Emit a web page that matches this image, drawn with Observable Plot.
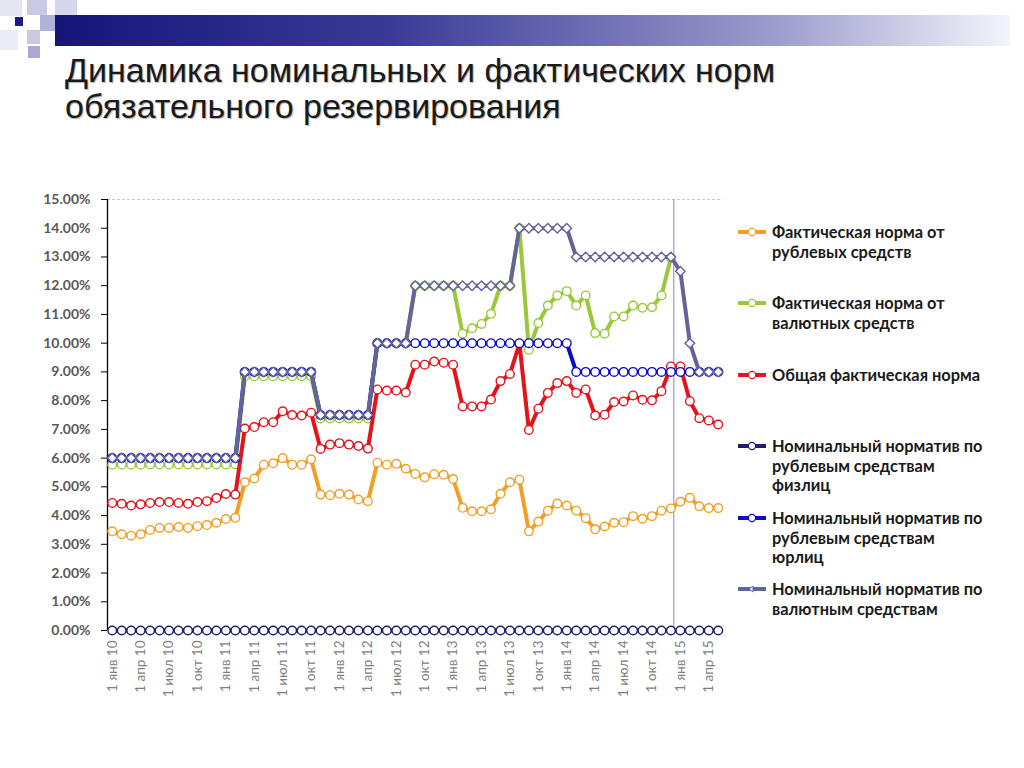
<!DOCTYPE html>
<html><head><meta charset="utf-8">
<script src="https://cdn.jsdelivr.net/npm/d3@7"></script>
<script src="https://cdn.jsdelivr.net/npm/@observablehq/plot@0.6"></script>
<style>
body{margin:0;width:1024px;height:768px;background:#fff;position:relative;overflow:hidden;font-family:"Liberation Sans",Arial,sans-serif}
.sq{position:absolute}
#bar{position:absolute;left:55px;top:15px;width:955px;height:31px;background:linear-gradient(to right,#15157a 0%,#3a3a96 35%,#9b9bcc 75%,#f4f4fb 100%)}
#title{position:absolute;left:65px;top:52px;font-size:34px;line-height:36px;color:#1a1a1a;text-shadow:1px 1px 1px #b0b0b0}
#chart{position:absolute;left:0;top:170px}
#legend{position:absolute;left:736px;top:0;font-family:Lato,"Open Sans",sans-serif;font-weight:bold;font-size:16.4px;color:#1a1a1a}
.item{position:absolute;left:0;line-height:19.5px}
.item svg{position:absolute;left:0;top:0}
.item span{position:absolute;left:36px;top:0;white-space:pre}
</style></head><body>
<div class="sq" style="left:0;top:0;width:22px;height:16px;background:#e6e6f2"></div>
<div class="sq" style="left:27px;top:0;width:20px;height:15px;background:#c9c9e4"></div>
<div class="sq" style="left:55px;top:0;width:22px;height:15px;background:#d6d6ec"></div>
<div class="sq" style="left:15px;top:17px;width:8px;height:9px;background:#1c1c82"></div>
<div class="sq" style="left:40px;top:15px;width:15px;height:16px;background:#b3b3d9"></div>
<div class="sq" style="left:27px;top:30px;width:13px;height:14px;background:#c9c9e4"></div>
<div class="sq" style="left:0;top:30px;width:18px;height:20px;background:#ececf5"></div>
<div class="sq" style="left:28px;top:46px;width:12px;height:12px;background:#a9a9d2"></div>
<div id="bar"></div>
<div id="title">Динамика номинальных и фактических норм<br>обязательного резервирования</div>
<div id="chart"></div>
<div id="legend"></div>
<script>
// x-axis tick labels (every 3rd month from Jan 2010)
const tickLabels = ["1 янв 10","1 апр 10","1 июл 10","1 окт 10","1 янв 11","1 апр 11","1 июл 11","1 окт 11","1 янв 12","1 апр 12","1 июл 12","1 окт 12","1 янв 13","1 апр 13","1 июл 13","1 окт 13","1 янв 14","1 апр 14","1 июл 14","1 окт 14","1 янв 15","1 апр 15"];
const yTicks = [0,1,2,3,4,5,6,7,8,9,10,11,12,13,14,15];
// monthly observations, Jan 2010 .. May 2015 (65 months)
const rubActual = [3.45,3.35,3.30,3.35,3.50,3.57,3.57,3.60,3.57,3.63,3.67,3.75,3.88,3.92,5.16,5.29,5.77,5.82,6.00,5.77,5.77,5.96,4.73,4.71,4.76,4.73,4.56,4.50,5.84,5.77,5.80,5.63,5.45,5.33,5.44,5.42,5.27,4.27,4.15,4.15,4.22,4.76,5.16,5.25,3.45,3.79,4.17,4.42,4.35,4.17,3.91,3.52,3.62,3.75,3.77,3.98,3.89,3.98,4.17,4.25,4.48,4.62,4.32,4.26,4.26];
const fxActual = [5.77,5.77,5.77,5.77,5.78,5.78,5.78,5.78,5.78,5.78,5.78,5.78,5.78,5.78,8.85,8.85,8.85,8.85,8.85,8.85,8.85,8.85,7.38,7.38,7.38,7.38,7.38,7.38,10.0,10.0,10.0,10.0,12.0,12.0,12.0,12.0,12.0,10.33,10.52,10.67,11.02,12.0,12.0,14.0,9.77,10.70,11.31,11.66,11.81,11.31,11.66,10.35,10.33,10.93,10.93,11.31,11.23,11.25,11.66,12.97,null,null,null,null,null];
const totalActual = [4.44,4.41,4.35,4.39,4.44,4.47,4.47,4.44,4.41,4.47,4.50,4.61,4.75,4.73,7.03,7.08,7.25,7.25,7.63,7.50,7.48,7.58,6.32,6.47,6.52,6.47,6.42,6.33,8.39,8.35,8.35,8.28,9.25,9.25,9.36,9.32,9.25,7.80,7.80,7.80,8.04,8.68,8.93,9.98,6.98,7.72,8.27,8.61,8.68,8.27,8.39,7.48,7.51,7.95,7.97,8.18,8.03,8.01,8.33,9.19,9.19,7.98,7.39,7.31,7.17];
const nomRubPersons = [0,0,0,0,0,0,0,0,0,0,0,0,0,0,0,0,0,0,0,0,0,0,0,0,0,0,0,0,0,0,0,0,0,0,0,0,0,0,0,0,0,0,0,0,0,0,0,0,0,0,0,0,0,0,0,0,0,0,0,0,0,0,0,0,0];
const nomRubLegal = [6,6,6,6,6,6,6,6,6,6,6,6,6,6,9,9,9,9,9,9,9,9,7.5,7.5,7.5,7.5,7.5,7.5,10,10,10,10,10,10,10,10,10,10,10,10,10,10,10,10,10,10,10,10,10,9,9,9,9,9,9,9,9,9,9,9,9,9,9,9,9];
const nomFx = [6,6,6,6,6,6,6,6,6,6,6,6,6,6,9,9,9,9,9,9,9,9,7.5,7.5,7.5,7.5,7.5,7.5,10,10,10,10,12,12,12,12,12,12,12,12,12,12,12,14,14,14,14,14,14,13,13,13,13,13,13,13,13,13,13,13,12.5,10,9,9,9];
const markerMonth = [59.3];

const seriesNames = ["Фактическая норма от\nрублевых средств","Фактическая норма от\nвалютных средств","Общая фактическая норма","Номинальный норматив по\nрублевым средствам\nфизлиц","Номинальный норматив по\nрублевым средствам\nюрлиц","Номинальный норматив по\nвалютным средствам"];
const seriesColors = ["#f0a028","#99c93a","#e3141b","#1e1e6e","#0b0bc8","#64649a"];
const seriesValues = [rubActual,fxActual,totalActual,nomRubPersons,nomRubLegal,nomFx];
const seriesSymbols = ["circle","circle","circle","circle","circle","diamond2"];
const legendTops = [222,293,365,436,508,579];

const marks = [
  Plot.ruleY([15],{stroke:"#c8c8c8",strokeDasharray:"3,2",strokeWidth:1}),
  Plot.ruleX(markerMonth,{y1:0,y2:15,stroke:"#9a9ad8",strokeWidth:1.2}),
  Plot.axisY({ticks:yTicks,label:null,tickSize:6,tickPadding:11,tickFormat:d=>d.toFixed(2)+"%",fontSize:14,fontWeight:"bold",fill:"#595959",stroke:"#000",fontFamily:"Lato, 'Open Sans', sans-serif"}),
  Plot.ruleX([-0.5],{y1:0,y2:15,stroke:"#000",strokeWidth:1.3}),
  Plot.axisX({ticks:tickLabels.map((_,k)=>k*3),label:null,tickFormat:i=>tickLabels[i/3],tickRotate:-90,tickSize:0,tickPadding:10,fontSize:13.5,fill:"#7f7f7f",fontFamily:"Lato, 'Open Sans', sans-serif"})
];
seriesValues.forEach((vals,s)=>{
  const rows = vals.map((v,i)=>({i,v})).filter(d=>d.v!=null);
  marks.push(Plot.line(rows,{x:"i",y:"v",stroke:seriesColors[s],strokeWidth:4,curve:"linear"}));
  marks.push(Plot.dot(rows,{x:"i",y:"v",r:4.3,symbol:seriesSymbols[s],fill:"#fff",stroke:seriesColors[s],strokeWidth:1.4}));
});

const chart = Plot.plot({
  width:740,height:530,
  marginTop:29,marginBottom:70,marginLeft:107,marginRight:17.5,
  x:{type:"linear",domain:[-0.5,64.5],label:null},
  y:{domain:[0,15],label:null},
  style:{background:"transparent",fontFamily:"Lato, 'Open Sans', sans-serif"},
  marks
});
document.getElementById("chart").appendChild(chart);

const legend = document.getElementById("legend");
seriesNames.forEach((name,s)=>{
  const div = document.createElement("div");
  div.className="item";
  div.style.top = legendTops[s]+"px";
  const sym = seriesSymbols[s]==="circle"
    ? `<circle cx="16" cy="10" r="3.6" fill="#fff" stroke="${seriesColors[s]}" stroke-width="1.2"/>`
    : `<path d="M13,10 L17,7 L17,13 Z" fill="#fff" stroke="${seriesColors[s]}" stroke-width="1"/>`;
  div.innerHTML = `<svg width="32" height="20"><line x1="2" x2="30" y1="10" y2="10" stroke="${seriesColors[s]}" stroke-width="4"/>${sym}</svg><span></span>`;
  div.querySelector("span").textContent = name;
  legend.appendChild(div);
});
</script>
</body></html>
